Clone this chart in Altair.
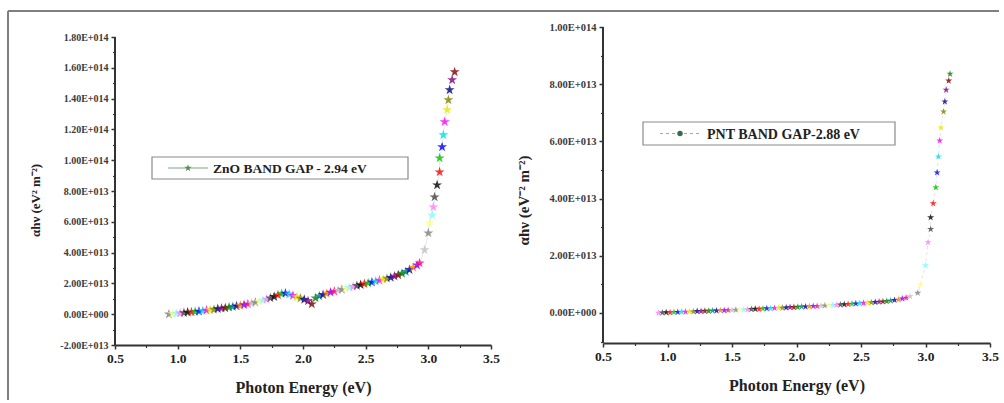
import altair as alt
import pandas as pd

# ---------------- data (alpha*h*nu in units of 1e13 eV^2 m^-2) ----------------
zno_energy = [0.93, 0.96, 0.99, 1.02, 1.05, 1.08, 1.11, 1.14, 1.17, 1.20, 1.23, 1.26, 1.29, 1.32,
              1.35, 1.38, 1.41, 1.44, 1.47, 1.50, 1.53, 1.56, 1.59, 1.62, 1.65, 1.68, 1.71, 1.74,
              1.77, 1.80, 1.83, 1.86, 1.89, 1.92, 1.95, 1.98, 2.01, 2.04, 2.07, 2.10, 2.13, 2.16,
              2.19, 2.22, 2.25, 2.28, 2.31, 2.34, 2.37, 2.40, 2.43, 2.46, 2.49, 2.52, 2.55, 2.58,
              2.61, 2.64, 2.67, 2.70, 2.73, 2.76, 2.79, 2.82, 2.85, 2.88, 2.91,
              2.93, 2.97, 3.00, 3.01, 3.03, 3.04, 3.05, 3.07, 3.09, 3.09, 3.11, 3.12, 3.13, 3.15,
              3.16, 3.17, 3.19, 3.21]
zno_ahv = [0.00, 0.02, 0.05, 0.07, 0.09, 0.12, 0.14, 0.16, 0.19, 0.22, 0.25, 0.28, 0.31, 0.35,
           0.38, 0.41, 0.45, 0.49, 0.53, 0.57, 0.61, 0.66, 0.71, 0.77, 0.83, 0.90, 0.97, 1.05,
           1.14, 1.24, 1.33, 1.36, 1.30, 1.21, 1.12, 1.03, 0.95, 0.86, 0.66, 1.05, 1.18, 1.27,
           1.35, 1.42, 1.49, 1.55, 1.61, 1.67, 1.73, 1.79, 1.85, 1.91, 1.97, 2.02, 2.08, 2.14,
           2.20, 2.26, 2.32, 2.38, 2.46, 2.55, 2.65, 2.76, 2.89, 3.03, 3.18,
           3.32, 4.17, 5.27, 5.92, 6.44, 6.96, 7.61, 8.39, 9.23, 10.14, 10.86, 11.64, 12.49, 13.27,
           13.91, 14.56, 15.21, 15.73]

pnt_energy = [0.93, 0.96, 0.99, 1.02, 1.05, 1.08, 1.11, 1.14, 1.17, 1.20, 1.23, 1.26, 1.29, 1.32,
              1.35, 1.38, 1.41, 1.44, 1.47, 1.50, 1.53, 1.56, 1.59, 1.62, 1.65, 1.68, 1.71, 1.74,
              1.77, 1.80, 1.83, 1.86, 1.89, 1.92, 1.95, 1.98, 2.01, 2.04, 2.07, 2.10, 2.13, 2.16,
              2.19, 2.22, 2.25, 2.28, 2.31, 2.34, 2.37, 2.40, 2.43, 2.46, 2.49, 2.52, 2.55, 2.58,
              2.61, 2.64, 2.67, 2.70, 2.73, 2.76, 2.79, 2.82, 2.85,
              2.88, 2.94, 2.96, 3.00, 3.02, 3.04, 3.04, 3.06, 3.08, 3.09, 3.10, 3.11, 3.12, 3.14,
              3.15, 3.16, 3.18, 3.19]
pnt_ahv = [0.00, 0.01, 0.02, 0.02, 0.03, 0.03, 0.04, 0.04, 0.05, 0.05, 0.06, 0.06, 0.07, 0.07,
           0.08, 0.08, 0.09, 0.09, 0.10, 0.10, 0.11, 0.11, 0.12, 0.12, 0.13, 0.14, 0.14, 0.15,
           0.16, 0.16, 0.17, 0.18, 0.18, 0.19, 0.20, 0.20, 0.21, 0.22, 0.22, 0.23, 0.24, 0.24,
           0.25, 0.26, 0.27, 0.27, 0.28, 0.29, 0.30, 0.31, 0.32, 0.33, 0.34, 0.35, 0.36, 0.37,
           0.38, 0.39, 0.40, 0.41, 0.43, 0.45, 0.47, 0.50, 0.53,
           0.58, 0.70, 0.98, 1.67, 2.47, 2.93, 3.34, 3.83, 4.39, 4.91, 5.47, 6.03, 6.48, 7.04,
           7.39, 7.80, 8.12, 8.36]

x_ticks = [0.5, 1.0, 1.5, 2.0, 2.5, 3.0, 3.5]
x_minor = [0.75, 1.25, 1.75, 2.25, 2.75, 3.25]
zno_y_ticks = [-2e13, 0, 2e13, 4e13, 6e13, 8e13, 1e14, 1.2e14, 1.4e14, 1.6e14, 1.8e14]
zno_y_minor = [-1e13, 1e13, 3e13, 5e13, 7e13, 9e13, 1.1e14, 1.3e14, 1.5e14, 1.7e14]
pnt_y_ticks = [0, 2e13, 4e13, 6e13, 8e13, 1e14]
pnt_y_minor = [-1e13, 1e13, 3e13, 5e13, 7e13, 9e13]

zno_legend = "ZnO BAND GAP - 2.94 eV"
pnt_legend = "PNT BAND GAP-2.88 eV"
x_title = "Photon Energy (eV)"
zno_y_title = "αhν (eV² m⁻²)"
pnt_y_title = "αhν (eV⁻² m⁻²)"

# ---------------- styling ----------------
COLORS = ['#000000', '#ff0000', '#00c000', '#0000ff', '#00e0e0', '#ff00ff', '#e8e800', '#808000',
          '#000080', '#800080', '#800000', '#008000', '#008080', '#0000a0', '#ff8000', '#8000ff',
          '#ff0080', '#c0c0c0', '#808080', '#ffff80', '#80ffff', '#ff80ff', '#404040']
STAR = ("M0,-1L0.225,-0.309L0.951,-0.309L0.363,0.118L0.588,0.809L0,0.382"
        "L-0.588,0.809L-0.363,0.118L-0.951,-0.309L-0.225,-0.309Z")
FONT = "Liberation Serif"
INK = "#222222"
SCI = ("datum.value == 0 ? '0.00E+000' : (datum.value < 0 ? '-' : '') + "
       "replace(upper(format(abs(datum.value), '.2e')), 'E+', 'E+0')")

one = pd.DataFrame({"a": [0]})


def make_df(energy, ahv, offset):
    return pd.DataFrame({
        "e": energy,
        "v": [a * 1e13 for a in ahv],
        "c": [(i + offset) % len(COLORS) for i in range(len(energy))],
    })


def panel(energy, ahv, offset, width, height, ydomain, yaxis_bottom, yaxis_top,
          yticks, yminor, ytitle, ytitle_size, ylabel_size, star_size, line_style,
          legend_text, legend_box, legend_size, frame):
    df = make_df(energy, ahv, offset)
    xs = alt.Scale(domain=[0.5, 3.5], nice=False, zero=False)
    ys = alt.Scale(domain=ydomain, nice=False, zero=False)

    x_major = alt.Axis(values=x_ticks, format=".1f", orient="bottom", grid=False,
                       labelFont=FONT, labelFontSize=13.5, labelFontWeight="bold", labelColor=INK,
                       labelPadding=2, labelFlush=False, labelOverlap=False,
                       tickSize=4, tickWidth=1.5, tickColor="#333333",
                       domain=True, domainColor="#333333", domainWidth=2,
                       title=x_title, titleFont=FONT, titleFontSize=16, titleFontWeight="bold",
                       titleColor=INK, titleY=34, titleBaseline="top")
    y_major = alt.Axis(values=yticks, labelExpr=SCI, orient="left", grid=False,
                       labelFont=FONT, labelFontSize=ylabel_size, labelFontWeight="bold",
                       labelColor="#3a3a3a", labelPadding=3,
                       tickSize=4, tickWidth=1.5, tickColor="#333333", domain=False,
                       title=ytitle, titleFont=FONT, titleFontSize=ytitle_size,
                       titleFontWeight="bold", titleColor=INK, titleAngle=-90,
                       titleX=-80, titleY=173, titleAlign="center", titleBaseline="middle")
    x_min = alt.Axis(values=x_minor, orient="bottom", labels=False, domain=False, grid=False,
                     tickSize=2.5, tickWidth=1.2, tickColor="#333333", title=None)
    y_min = alt.Axis(values=yminor, orient="left", labels=False, domain=False, grid=False,
                     tickSize=2.5, tickWidth=1.2, tickColor="#333333", title=None)

    layers = []
    if frame:
        layers.append(alt.Chart(one).mark_rule(color="#7f7f7f", strokeWidth=2).encode(
            x=alt.value(-107), x2=alt.value(884), y=alt.value(-16)))
        layers.append(alt.Chart(one).mark_rule(color="#7f7f7f", strokeWidth=2).encode(
            x=alt.value(-107), y=alt.value(-16), y2=alt.value(373)))

    bx0, bx1, by0, by1, lx0, lx1, sx, tx = legend_box
    ly = (by0 + by1) / 2
    layers.append(alt.Chart(one).mark_rect(fill="white", stroke="#8a8a8a", strokeWidth=1.2).encode(
        x=alt.value(bx0), x2=alt.value(bx1), y=alt.value(by0), y2=alt.value(by1)))
    layers.append(alt.Chart(one).mark_rule(color=line_style["legend_color"], strokeWidth=1.2,
                                           strokeDash=line_style["dash"]).encode(
        x=alt.value(lx0), x2=alt.value(lx1), y=alt.value(ly)))
    layers.append(alt.Chart(one).mark_point(shape=line_style["legend_shape"], filled=True,
                                            size=line_style["legend_size"], opacity=1,
                                            color=line_style["legend_marker"]).encode(
        x=alt.value(sx), y=alt.value(ly)))
    layers.append(alt.Chart(one).mark_text(align="left", baseline="middle", font=FONT,
                                           fontSize=legend_size, fontWeight="bold",
                                           color=INK).encode(
        x=alt.value(tx), y=alt.value(ly + 1), text=alt.value(legend_text)))

    layers.append(alt.Chart(df).mark_line(color=line_style["color"], strokeWidth=0.7,
                                          opacity=0.35, strokeDash=line_style["dash"]).encode(
        x=alt.X("e:Q", scale=xs, axis=None),
        y=alt.Y("v:Q", scale=ys, axis=None)))
    layers.append(alt.Chart(df).mark_point(shape=STAR, filled=True, size=star_size,
                                           opacity=0.8, strokeWidth=0).encode(
        x=alt.X("e:Q", scale=xs, axis=x_major),
        y=alt.Y("v:Q", scale=ys, axis=y_major),
        color=alt.Color("c:O", scale=alt.Scale(domain=list(range(len(COLORS))), range=COLORS),
                        legend=None)))

    axis_df = pd.DataFrame({"e": [0.5], "v": [yaxis_bottom], "v2": [yaxis_top]})
    layers.append(alt.Chart(axis_df).mark_rule(color="#333333", strokeWidth=2).encode(
        x=alt.X("e:Q", scale=xs, axis=x_min),
        y=alt.Y("v:Q", scale=ys, axis=y_min),
        y2="v2:Q"))

    return alt.layer(*layers).resolve_axis(x="independent", y="independent").properties(
        width=width, height=height)


left = panel(zno_energy, zno_ahv, 18, 376, 318, [-2e13, 1.865e14], -2e13, 1.8e14,
             zno_y_ticks, zno_y_minor, zno_y_title, 13, 10, 110,
             {"color": "#7aa87a", "dash": [1, 0], "legend_color": "#7aa87a",
              "legend_shape": STAR, "legend_size": 60, "legend_marker": "#5a8a5a"},
             zno_legend, (37, 293, 130, 152, 53, 93, 73, 98), 13.5, True)

right = panel(pnt_energy, pnt_ahv, 21, 387, 316, [-1.05e13, 1e14], -1.05e13, 1e14,
              pnt_y_ticks, pnt_y_minor, pnt_y_title, 15, 10.5, 55,
              {"color": "#8a8a8a", "dash": [3, 3], "legend_color": "#9aaa9a",
               "legend_shape": "circle", "legend_size": 30, "legend_marker": "#3a6a4a"},
              pnt_legend, (40, 292, 95, 118, 57, 97, 77, 104), 14, False)

chart = alt.hconcat(left, right, spacing=112, bounds="flush").properties(
    padding={"left": 7, "top": 10, "right": 0, "bottom": 0},
    background="white",
).configure_view(stroke=None)

chart.save("out.html", embed_options={"renderer": "svg", "actions": False})
